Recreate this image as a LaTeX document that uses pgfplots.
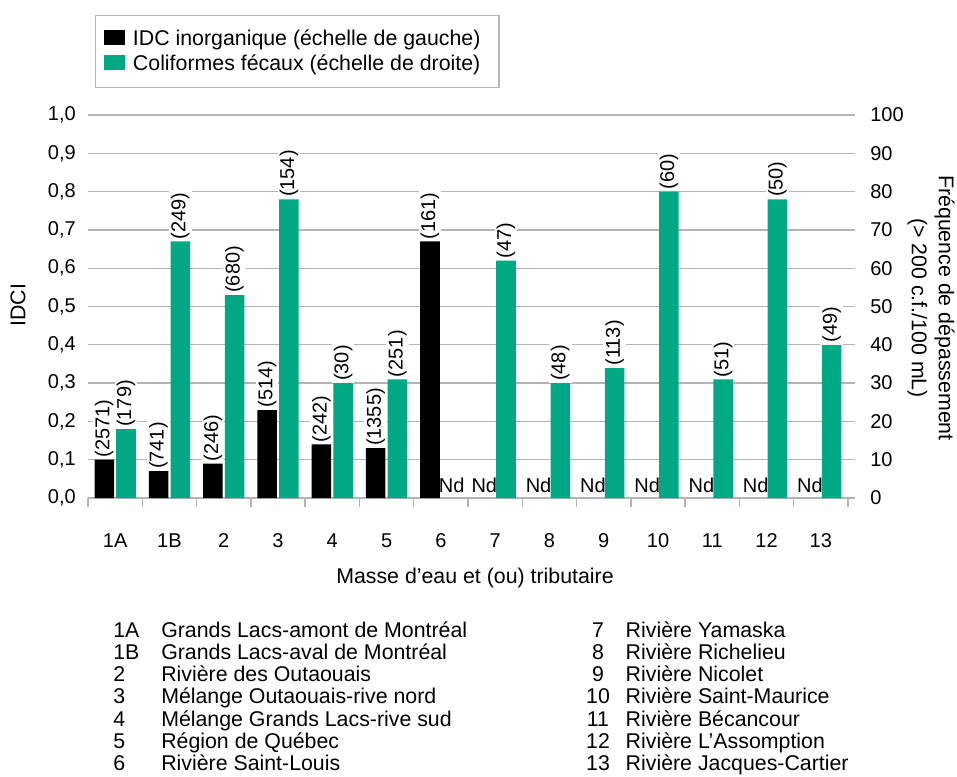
\documentclass[border=0pt]{standalone}
\usepackage{fontspec}
\setmainfont{Liberation Sans}
\usepackage{pgfplots}
\usepackage{pgfplotstable}
\pgfplotsset{compat=1.18}
\definecolor{cfgreen}{RGB}{0,168,132}
\definecolor{gridgray}{RGB}{180,180,180}
\newcommand{\fs}{\fontsize{15}{18}\selectfont}
\newcommand{\fl}{\fontsize{16}{20.25}\selectfont}

\pgfplotstableread{
x y label
-0.2 0.10 (2571)
0.8 0.07 (741)
1.8 0.09 (246)
2.8 0.23 (514)
3.8 0.14 (242)
4.8 0.13 (1355)
5.8 0.67 (161)
}\idc

\pgfplotstableread{
x y label
0.2 18 (179)
1.2 67 (249)
2.2 53 (680)
3.2 78 (154)
4.2 30 (30)
5.2 31 (251)
7.2 62 (47)
8.2 30 (48)
9.2 34 (113)
10.2 80 (60)
11.2 31 (51)
12.2 78 (50)
13.2 40 (49)
}\coli

\pgfplotstableread{
x y label
6.2 0 Nd
6.8 0 Nd
7.8 0 Nd
8.8 0 Nd
9.8 0 Nd
10.8 0 Nd
11.8 0 Nd
12.8 0 Nd
}\nd

\begin{document}
\begin{tikzpicture}
\path[use as bounding box] (-66pt,-208.5pt) rectangle (651.75pt,373.5pt);

\begin{axis}[
  at={(0pt,0pt)}, anchor=south west,
  scale only axis, width=570pt, height=287.25pt,
  xmin=-0.5, xmax=13.5, ymin=0, ymax=1,
  axis x line*=bottom, axis y line*=left,
  y axis line style={draw=none},
  x axis line style={draw=gridgray, line width=1pt, -},
  xtick={0,...,13},
  xticklabels={1A,1B,2,3,4,5,6,7,8,9,10,11,12,13},
  minor xtick={-0.5,0.5,...,13.5},
  major tick length=0pt, minor tick length=6.75pt,
  tick align=outside,
  major x tick style={draw=none},
  minor x tick style={draw=gridgray, line width=1pt},
  ytick={0,0.1,0.2,0.3,0.4,0.5,0.6,0.7,0.8,0.9,1.0},
  ytick style={draw=none},
  ymajorgrids, major grid style={draw=gridgray, line width=1pt},
  yticklabel style={font=\fs, anchor=east, inner sep=0pt, xshift=-9pt,
    /pgf/number format/.cd, fixed, fixed zerofill, precision=1, use comma, assume math mode=true},
  xticklabel style={font=\fs, anchor=center, inner sep=0pt, yshift=-32pt},
  clip=false,
]
\addplot[ybar, bar width=0.36, bar shift=0pt, fill=black, draw=none,
  nodes near coords, point meta=explicit symbolic,
  nodes near coords style={rotate=90, anchor=west, font=\fs, fill=white, inner sep=1.5pt, text=black}]
  table[x=x, y=y, meta=label] {\idc};
\addplot[draw=none, mark=none,
  nodes near coords, point meta=explicit symbolic,
  nodes near coords style={anchor=base, yshift=4.5pt, font=\fs, inner sep=0pt, text=black}]
  table[x=x, y=y, meta=label] {\nd};
\end{axis}

\begin{axis}[
  at={(0pt,0pt)}, anchor=south west,
  scale only axis, width=570pt, height=287.25pt,
  xmin=-0.5, xmax=13.5, ymin=0, ymax=100,
  axis x line=none, axis y line*=right,
  y axis line style={draw=none},
  ytick={0,10,20,30,40,50,60,70,80,90,100},
  tick align=outside, major tick length=5pt,
  ytick style={draw=gridgray, line width=1pt},
  yticklabel style={font=\fs, anchor=west, inner sep=0pt, xshift=11.5pt,
    /pgf/number format/.cd, assume math mode=true},
  clip=false,
  legend style={at={(0.0092,1.2611)}, anchor=north west, draw=gridgray, line width=1pt,
    font=\fl, inner xsep=6pt, inner ysep=10.5pt, row sep=5pt, column sep=6pt,
    nodes={inner sep=0pt, text height=0.75em, text depth=0.25em}},
  legend cell align=left,
]
\addlegendimage{legend image code/.code={\fill[black] (0pt,-2pt) rectangle (15pt,8.5pt);}}
\addlegendentry{IDC inorganique (échelle de gauche)\rule{8pt}{0pt}}
\addlegendimage{legend image code/.code={\fill[cfgreen] (0pt,-2pt) rectangle (15pt,8.5pt);}}
\addlegendentry{Coliformes fécaux (échelle de droite)\rule{8pt}{0pt}}
\addplot[forget plot, ybar, bar width=0.36, bar shift=0pt, fill=cfgreen, draw=none,
  nodes near coords, point meta=explicit symbolic,
  nodes near coords style={rotate=90, anchor=west, font=\fs, fill=white, inner sep=1.5pt, text=black}]
  table[x=x, y=y, meta=label] {\coli};
\end{axis}

\node[rotate=90, font=\fl] at (-52.5pt,144.75pt) {IDCI};
\node[rotate=-90, align=center, font=\fl] at (632.25pt,142.5pt) {Fréquence de dépassement\\(> 200 c.f./100 mL)};
\node[font=\fl] at (290.25pt,-60pt) {Masse d’eau et (ou) tributaire};

\foreach \n/\t/\y in {1A/Grands Lacs-amont de Montréal/-104.25,
  1B/Grands Lacs-aval de Montréal/-120.975,
  2/Rivière des Outaouais/-137.7,
  3/Mélange Outaouais-rive nord/-154.425,
  4/Mélange Grands Lacs-rive sud/-171.15,
  5/Région de Québec/-187.875,
  6/Rivière Saint-Louis/-204.6}{
  \node[anchor=base west, font=\fl, inner sep=0pt] at (18.75pt,\y pt) {\n};
  \node[anchor=base west, font=\fl, inner sep=0pt] at (54.75pt,\y pt) {\t};
}
\foreach \n/\t/\y in {7/Rivière Yamaska/-104.25,
  8/Rivière Richelieu/-120.975,
  9/Rivière Nicolet/-137.7,
  10/Rivière Saint-Maurice/-154.425,
  11/Rivière Bécancour/-171.15,
  12/Rivière L’Assomption/-187.875,
  13/Rivière Jacques-Cartier/-204.6}{
  \node[anchor=base, font=\fl, inner sep=0pt] at (382.5pt,\y pt) {\n};
  \node[anchor=base west, font=\fl, inner sep=0pt] at (403.1pt,\y pt) {\t};
}
\end{tikzpicture}
\end{document}
